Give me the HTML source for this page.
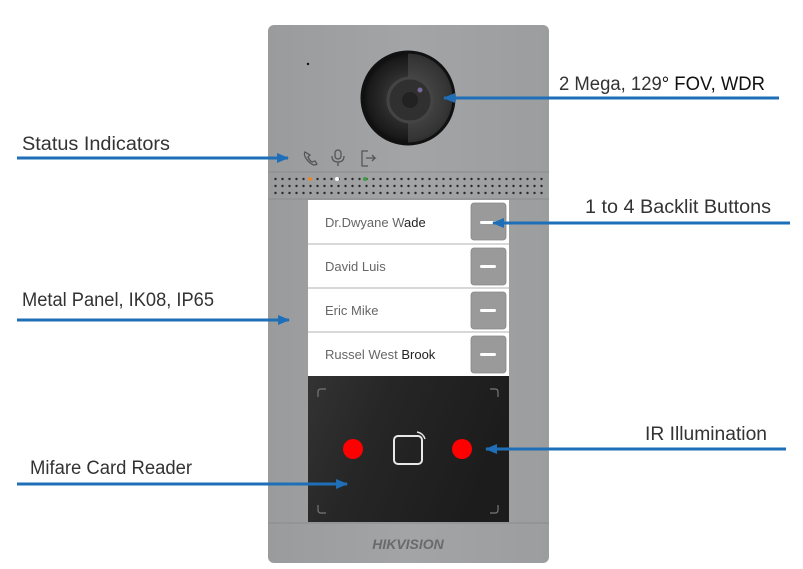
<!DOCTYPE html>
<html><head><meta charset="utf-8"><style>
html,body{margin:0;padding:0;background:#fff;width:803px;height:569px;overflow:hidden}
text{font-family:"Liberation Sans",sans-serif}
</style></head><body>
<svg width="803" height="569" viewBox="0 0 803 569" xmlns="http://www.w3.org/2000/svg">
<defs>
<linearGradient id="pn" x1="0" x2="1" y1="0" y2="0">
<stop offset="0" stop-color="#9a9b9d"/><stop offset="0.5" stop-color="#a3a4a6"/><stop offset="1" stop-color="#9c9d9f"/></linearGradient>
<radialGradient id="ln" cx="0.5" cy="0.5" r="0.5">
<stop offset="0" stop-color="#2a2a2a"/><stop offset="0.3" stop-color="#3b3b3b"/><stop offset="0.55" stop-color="#2a2a2a"/><stop offset="0.85" stop-color="#1a1a1a"/><stop offset="1" stop-color="#0a0a0a"/></radialGradient>
<linearGradient id="rd" x1="0" x2="1" y1="0" y2="0.3">
<stop offset="0" stop-color="#333"/><stop offset="0.4" stop-color="#262626"/><stop offset="1" stop-color="#1c1c1c"/></linearGradient>
<pattern id="dots" x="272" y="176" width="7" height="7" patternUnits="userSpaceOnUse"><circle cx="3.5" cy="3" r="1.2" fill="#2a2a2a"/></pattern>
<marker id="ah" markerWidth="12" markerHeight="10" refX="11" refY="5" orient="auto" markerUnits="userSpaceOnUse"><path d="M0,0 L12,5 L0,10 z" fill="#1e6fb8"/></marker>
</defs>
<rect x="268" y="25" width="281" height="538" rx="6" fill="url(#pn)"/>
<circle cx="308" cy="64" r="1.2" fill="#111"/>
<circle cx="408" cy="98" r="47" fill="url(#ln)"/>
<path d="M408,53 A45,45 0 0 1 408,143 Z" fill="#6a6a6a" opacity="0.35"/>
<circle cx="408" cy="98" r="46" fill="none" stroke="#111" stroke-width="3"/>
<circle cx="410" cy="100" r="22" fill="#303030" stroke="#444" stroke-width="3"/>
<circle cx="410" cy="100" r="8" fill="#222"/>
<circle cx="420" cy="90" r="2.5" fill="#776a9a"/>
<g fill="none" stroke="#555" stroke-width="1.3">
<path d="M305,152 q-2,3 3,9 q6,6 9,3 l-2,-3 l-3,1 q-3,-2 -4,-5 l2,-2 z"/>
<rect x="335" y="150" width="6" height="9" rx="3"/><path d="M332,156 q0,6 6,6 q6,0 6,-6 M338,162 v4"/>
<path d="M368,151 h-6 v15 h6 M366,158 h9 l-3,-3 M375,158 l-3,3"/>
</g>
<line x1="268" y1="172" x2="549" y2="172" stroke="#8a8b8d"/>
<rect x="272" y="176" width="274" height="21" fill="url(#dots)"/>
<circle cx="310" cy="179" r="2" fill="#e08a30"/>
<circle cx="337" cy="179" r="2" fill="#fff"/>
<circle cx="365" cy="179" r="2" fill="#3aa040"/>
<line x1="268" y1="199" x2="549" y2="199" stroke="#8a8b8d"/>
<rect x="308" y="200" width="201" height="176" fill="#d8d8d8"/>
<g fill="#fff">
<rect x="308" y="200" width="201" height="43"/>
<rect x="308" y="245" width="201" height="42"/>
<rect x="308" y="289" width="201" height="42"/>
<rect x="308" y="333" width="201" height="43"/>
</g>
<g fill="#9a9a9a" stroke="#888" stroke-width="0.8">
<rect x="471" y="203" width="35" height="37" rx="3"/>
<rect x="471" y="248" width="35" height="37" rx="3"/>
<rect x="471" y="292" width="35" height="37" rx="3"/>
<rect x="471" y="336" width="35" height="37" rx="3"/>
</g>
<g fill="#fff"><rect x="480" y="221" width="16" height="3" rx="1.5"/><rect x="480" y="265" width="16" height="3" rx="1.5"/><rect x="480" y="309" width="16" height="3" rx="1.5"/><rect x="480" y="353" width="16" height="3" rx="1.5"/></g>
<g font-size="13" fill="#666">
<text x="325" y="227">Dr.Dwyane W<tspan fill="#222">ade</tspan></text>
<text x="325" y="271">David Luis</text>
<text x="325" y="315">Eric Mike</text>
<text x="325" y="359">Russel West  <tspan fill="#222">Brook</tspan></text>
</g>
<rect x="308" y="376" width="201" height="146" fill="url(#rd)"/>
<g fill="none" stroke="#777" stroke-width="1.2">
<path d="M318,397 v-5 q0,-3 3,-3 h5"/><path d="M490,389 h5 q3,0 3,3 v5"/>
<path d="M318,505 v5 q0,3 3,3 h5"/><path d="M490,513 h5 q3,0 3,-3 v-5"/>
</g>
<rect x="394" y="436" width="28" height="28" rx="4" fill="none" stroke="#e8e8e8" stroke-width="2"/>
<path d="M417,432 q6,1 8,7" fill="none" stroke="#e8e8e8" stroke-width="1.5"/>
<circle cx="353" cy="449" r="10" fill="#f00"/>
<circle cx="462" cy="449" r="10" fill="#f00"/>
<line x1="268" y1="523" x2="549" y2="523" stroke="#8a8b8d"/>
<text x="408" y="549" text-anchor="middle" font-size="14" font-weight="bold" font-style="italic" fill="#6a6a6a">HIKVISION</text>
<g stroke="#1e6fb8" stroke-width="3" fill="none">
<line x1="17" y1="158" x2="288" y2="158" marker-end="url(#ah)"/>
<line x1="779" y1="98" x2="444" y2="98" marker-end="url(#ah)"/>
<line x1="790" y1="223" x2="493" y2="223" marker-end="url(#ah)"/>
<line x1="17" y1="320" x2="289" y2="320" marker-end="url(#ah)"/>
<line x1="786" y1="449" x2="486" y2="449" marker-end="url(#ah)"/>
<line x1="17" y1="484" x2="347" y2="484" marker-end="url(#ah)"/>
</g>
<g font-size="19" fill="#333">
<text x="22" y="150" textLength="148" lengthAdjust="spacingAndGlyphs">Status Indicators</text>
<text x="559" y="90" textLength="206" lengthAdjust="spacingAndGlyphs">2 Mega, 129<tspan fill="#111">° FOV, WDR</tspan></text>
<text x="585" y="213" textLength="186" lengthAdjust="spacingAndGlyphs">1 to 4 Backlit Buttons</text>
<text x="22" y="306" textLength="192" lengthAdjust="spacingAndGlyphs">Metal Panel, IK08, IP65</text>
<text x="645" y="440" textLength="122" lengthAdjust="spacingAndGlyphs">IR Illumination</text>
<text x="30" y="474" textLength="162" lengthAdjust="spacingAndGlyphs">Mifare Card Reader</text>
</g>
</svg>
</body></html>
